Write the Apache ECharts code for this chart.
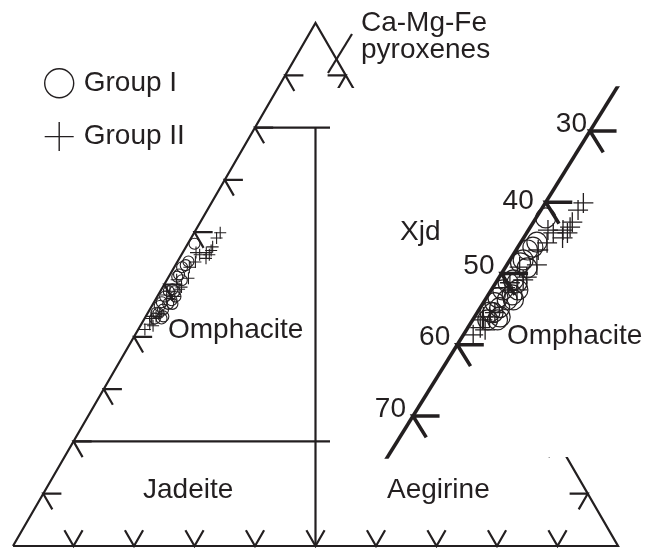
<!DOCTYPE html>
<html>
<head>
<meta charset="utf-8">
<script src="https://cdn.jsdelivr.net/npm/echarts@6/dist/echarts.min.js"></script>
<style>
  html, body { margin: 0; padding: 0; background: #fff; }
  #chart { width: 658px; height: 548px; }
</style>
</head>
<body>
<div id="chart"></div>
<script>
// Pyroxene compositions as end-member percentages [Quad, Jd, Ae]
const groupI = [
  [57.8, 41.1, 1.1], [54.4, 43.8, 1.8], [53.7, 44.6, 1.7], [53.3, 45.4, 1.3],
  [51.9, 46.6, 1.5], [51.5, 47.1, 1.4], [50.8, 46.7, 2.5], [49.1, 49.1, 1.8],
  [48.7, 49.9, 1.4], [47.7, 49.3, 3.0], [47.7, 51.0, 1.3], [47.0, 50.3, 2.7],
  [46.6, 52.1, 1.3], [45.9, 52.8, 1.3], [46.3, 51.2, 2.5], [44.6, 54.0, 1.4],
  [43.9, 53.2, 2.9], [43.5, 54.8, 1.7], [48.7, 48.9, 2.4], [46.3, 50.5, 3.2],
  [45.2, 52.6, 2.2], [43.5, 53.7, 2.8], [44.5, 53.7, 1.8]
];
const groupII = [
  [59.9, 35.8, 4.3], [58.9, 36.9, 4.2], [57.2, 38.4, 4.4], [56.5, 39.0, 4.5],
  [56.1, 40.0, 3.9], [55.7, 39.7, 4.6], [55.7, 41.3, 3.0], [56.1, 41.7, 2.2],
  [54.3, 42.7, 3.0], [53.3, 44.2, 2.5], [51.2, 45.4, 3.4], [50.9, 47.5, 1.6],
  [49.5, 47.4, 3.1], [49.1, 48.0, 2.9], [48.7, 49.7, 1.6], [48.0, 50.6, 1.4],
  [47.7, 49.4, 2.9], [44.5, 53.5, 2.0], [43.9, 54.4, 1.7], [43.9, 55.1, 1.0],
  [41.4, 57.5, 1.1], [42.1, 55.8, 2.1], [43.5, 55.4, 1.1], [42.4, 56.2, 1.4],
  [55.0, 40.6, 4.4]
];
const seriesNames = ['Group I', 'Group II'];
const edgeTicks = [10, 20, 30, 40, 50, 60, 70, 80, 90];   // % along each edge
const quadBounds = [20, 80];                              // Quad field limits
const jdAeSplit = 50;                                     // Jd / (Jd + Ae) divide
const xjdTicks = [30, 40, 50, 60, 70];                    // enlarged Jd scale
const fieldLabels = ['Ca-Mg-Fe', 'pyroxenes', 'Omphacite', 'Jadeite', 'Aegirine', 'Xjd'];

const INK = '#231f20';
const FONT = '"Liberation Sans", Arial, sans-serif';
const SQ = Math.sqrt(3) / 2;

// ternary (Quad apex, Jd bottom-left, Ae bottom-right) -> cartesian
function tern(q, jd, ae) {
  const s = q + jd + ae;
  q = q / s * 100; ae = ae / s * 100;
  return [ae + q / 2, q * SQ];
}

// ---- main triangle layout
const mainGrid = { left: 13, top: 23, width: 605, height: 523 };

// ---- enlarged strip along the Jd-Quad join
const insetBox = { left: 330, top: 88, width: 328, height: 369 };
const a30 = [590, 131], a70 = [413, 416];
const d30 = tern(70, 30, 0), d70 = tern(30, 70, 0);
const sx = (a30[0] - a70[0]) / (d30[0] - d70[0]);
const sy = (a70[1] - a30[1]) / (d30[1] - d70[1]);
const ox = a30[0] - d30[0] * sx;
const oy = a30[1] + d30[1] * sy;
const insetX = [(insetBox.left - ox) / sx, (insetBox.left + insetBox.width - ox) / sx];
const insetY = [(oy - insetBox.top - insetBox.height) / sy, (oy - insetBox.top) / sy];

// ---- line work
const L = 3;
const mainSegs = [
  [tern(0, 100, 0), tern(100, 0, 0), tern(0, 0, 100), tern(0, 100, 0)],
  ...quadBounds.map(q => [tern(q, 100 - q, 0), tern(q, 0, 100 - q)]),
  [tern(quadBounds[1], (100 - quadBounds[1]) * jdAeSplit / 100, (100 - quadBounds[1]) * (100 - jdAeSplit) / 100),
   tern(0, jdAeSplit, 100 - jdAeSplit)]
];
edgeTicks.forEach(t => {
  // Jd-Quad edge
  mainSegs.push([tern(t, 100 - t - L, L), tern(t, 100 - t, 0), tern(t - L, 100 - t, L)]);
  // Ae-Quad edge
  mainSegs.push([tern(t, L, 100 - t - L), tern(t, 0, 100 - t), tern(t - L, L, 100 - t)]);
  // Jd-Ae base
  mainSegs.push([tern(L, 100 - t, t - L), tern(0, 100 - t, t), tern(L, 100 - t - L, t)]);
});

const insetSegs = [[tern(90, 10, 0), tern(10, 90, 0)]];
xjdTicks.forEach(j => {
  insetSegs.push([tern(100 - j, j - L, L), tern(100 - j, j, 0), tern(100 - j - L, j, L)]);
});

function linesSeries(segs, idx, width, z, clip) {
  return {
    type: 'lines', coordinateSystem: 'cartesian2d', xAxisIndex: idx, yAxisIndex: idx,
    polyline: true, clip: clip, z: z, silent: true,
    lineStyle: { color: INK, width: width, opacity: 1, join: 'miter', cap: 'butt' },
    data: segs.map(c => ({ coords: c }))
  };
}

const PLUS = 'path://M10,0L10,20M0,10L20,10';
function pointSeries(name, rows, idx, symbol, size, width, z) {
  return {
    name: name, type: 'scatter', xAxisIndex: idx, yAxisIndex: idx, z: z,
    symbol: symbol, symbolSize: size, silent: true, clip: false,
    itemStyle: { color: 'rgba(0,0,0,0)', borderColor: INK, borderWidth: width, opacity: 1 },
    data: rows.map(r => tern(r[0], r[1], r[2]))
  };
}

const labelShift = { 30: [4, -7], 40: [-5, -1] };

const chart = echarts.init(document.getElementById('chart'), null, { renderer: 'canvas' });
chart.setOption({
  animation: false,
  backgroundColor: '#fff',
  grid: [
    Object.assign({ show: false, containLabel: false, z: 0 }, mainGrid),
    Object.assign({ show: true, backgroundColor: '#fff', borderWidth: 0, containLabel: false, z: 3 }, insetBox)
  ],
  xAxis: [
    { type: 'value', gridIndex: 0, min: 0, max: 100, show: false },
    { type: 'value', gridIndex: 1, min: insetX[0], max: insetX[1], show: false }
  ],
  yAxis: [
    { type: 'value', gridIndex: 0, min: 0, max: 100 * SQ, show: false },
    { type: 'value', gridIndex: 1, min: insetY[0], max: insetY[1], show: false }
  ],
  legend: {
    orient: 'vertical', left: 44, top: 68, padding: 0,
    itemWidth: 29, itemHeight: 29, itemGap: 23,
    selectedMode: false,
    textStyle: { color: INK, fontSize: 28, fontFamily: FONT, padding: [0, 0, 0, 5] },
    data: [
      { name: seriesNames[0], icon: 'circle', itemStyle: { color: 'rgba(0,0,0,0)', borderColor: INK, borderWidth: 1.4 } },
      { name: seriesNames[1], icon: PLUS, itemStyle: { color: INK, borderColor: INK, borderWidth: 1.4 } }
    ]
  },
  series: [
    linesSeries(mainSegs, 0, 2.2, 1, false),
    pointSeries(seriesNames[0], groupI, 0, 'circle', 11, 1.1, 2),
    pointSeries(seriesNames[1], groupII, 0, PLUS, 12, 1.1, 2),
    linesSeries(insetSegs, 1, 3.6, 4, true),
    pointSeries(seriesNames[0], groupI, 1, 'circle', 20, 1.2, 5),
    pointSeries(seriesNames[1], groupII, 1, PLUS, 20, 1.3, 5),
    {
      type: 'scatter', xAxisIndex: 1, yAxisIndex: 1, z: 6, silent: true,
      symbolSize: 0, clip: false,
      itemStyle: { opacity: 1 },
      data: xjdTicks.map(j => ({
        value: tern(100 - j, j, 0),
        label: { offset: labelShift[j] || [0, -7] }
      })),
      label: {
        show: true, position: 'left', distance: 7, opacity: 1,
        color: INK, fontSize: 28, fontFamily: FONT,
        formatter: p => String(xjdTicks[p.dataIndex])
      }
    }
  ],
  graphic: [
    { type: 'line', z: 10, silent: true, shape: { x1: 352, y1: 34, x2: 328, y2: 73 },
      style: { stroke: INK, lineWidth: 2.2 } },
    ...[
      [fieldLabels[0], 361, 23.5], [fieldLabels[1], 361, 50],
      [fieldLabels[2], 168, 330], [fieldLabels[3], 143, 490],
      [fieldLabels[4], 387, 490], [fieldLabels[5], 400, 232.5],
      [fieldLabels[2], 507, 336]
    ].map(t => ({
      type: 'text', z: 10, silent: true, x: t[1], y: t[2],
      style: { text: t[0], fill: INK, font: '28px ' + FONT,
               align: 'left', verticalAlign: 'middle', textAlign: 'left', textVerticalAlign: 'middle' }
    }))
  ]
});
</script>
</body>
</html>
